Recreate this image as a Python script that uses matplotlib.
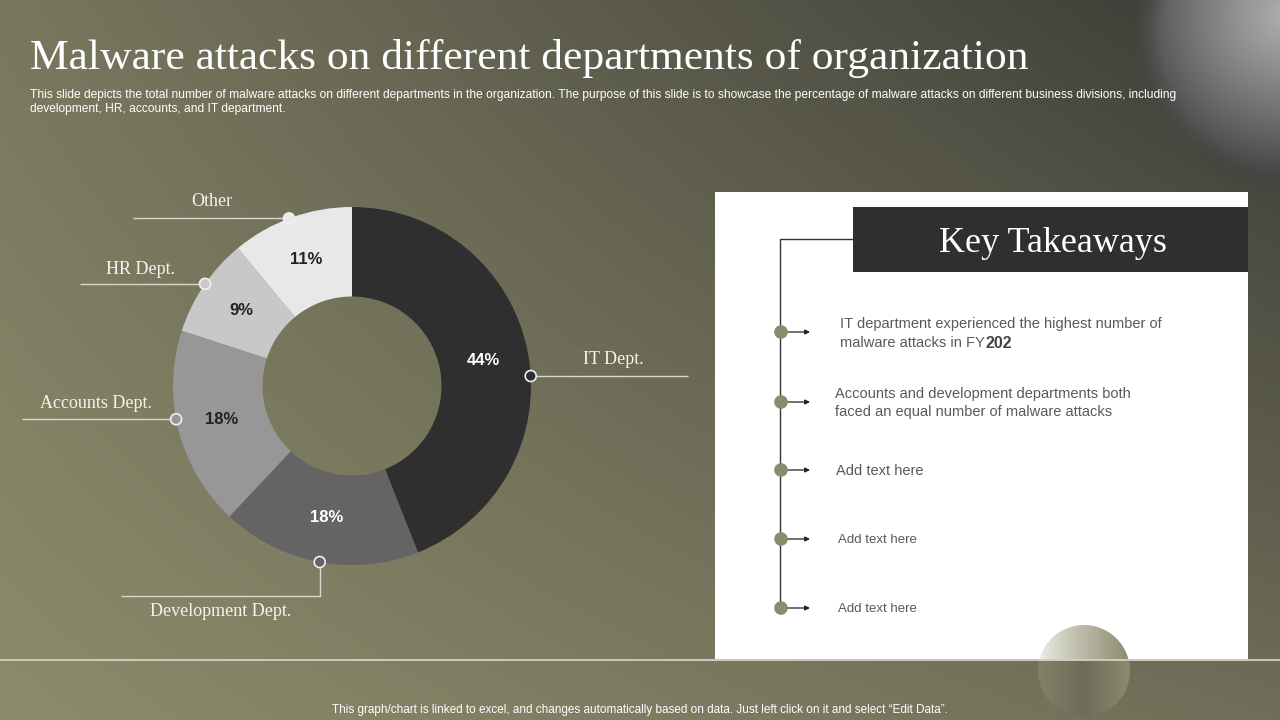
import numpy as np
import matplotlib
matplotlib.use('Agg')
import matplotlib.pyplot as plt
from matplotlib.patches import Circle, Rectangle

W, H = 1280, 720

# ---------------- data ----------------
departments = ['IT Dept.', 'Development Dept.', 'Accounts Dept.', 'HR Dept.', 'Other']
shares = [44, 18, 18, 9, 11]
slice_colors = ['#2f2f2f', '#646464', '#979797', '#c8c8c8', '#e8e8e8']
pct_colors = ['white', 'white', '#222222', '#222222', '#222222']

title = 'Malware attacks on different departments of organization'
subtitle_lines = [
    'This slide depicts the total number of malware attacks on different departments in the organization. '
    'The purpose of this slide is to showcase the percentage of malware attacks on different business divisions, including',
    'development, HR, accounts, and IT department.',
]
panel_title = 'Key Takeaways'
takeaway_1 = ['IT department experienced the highest number of', 'malware attacks in FY', '202']
takeaway_2 = ['Accounts and development departments both', 'faced an equal number of malware attacks']
takeaway_rest = ['Add text here', 'Add text here', 'Add text here']
footer = ('This graph/chart is linked to excel, and changes automatically based on data. '
          'Just left click on it and select \u201cEdit Data\u201d.')

# ---------------- layout ----------------
SANS = ['Liberation Sans', 'DejaVu Sans']
SERIF = ['Liberation Serif', 'DejaVu Serif']
PIE_C = (352, 386)      # pixel, y down
PIE_R = 179
leader_end_x = [688, 121, 22, 80, 133]
leader_drop = [0, 34, 0, 0, 0]
angle_adj = [-7.6, 0.4, -3.7, -0.6, 0.8]
label_pos = [(613, 359), (221, 611), (96, 403), (141, 270), (212, 201)]


def Y(py):
    return H - py


fig = plt.figure(figsize=(12.8, 7.2), dpi=100)
ax = fig.add_axes([0, 0, 1, 1])

# ---------------- background gradient ----------------
light = np.array([0x8c, 0x8b, 0x6b]) / 255.0
dark = np.array([0x3a, 0x3a, 0x36]) / 255.0
xn = np.linspace(0, 1, W)[None, :]
yn = np.linspace(0, 1, H)[:, None]
TL, TR, BL, BR = 0.24, 1.0, 0.0, 0.35
t = TL * (1 - xn) * (1 - yn) + TR * xn * (1 - yn) + BL * (1 - xn) * yn + BR * xn * yn
bg = light[None, None, :] + (dark - light)[None, None, :] * t[:, :, None]

# top-right glowing sphere
xx = np.arange(W)[None, :]
yy = np.arange(H)[:, None]
sc = (1292, 35)
sR = 160
r = np.sqrt((xx - sc[0]) ** 2 + (yy - sc[1]) ** 2)
dh = np.sqrt((xx - 1285) ** 2 + (yy - 15) ** 2) / 175.0
g = np.clip(0.68 - 0.45 * np.clip(dh, 0, 1) ** 1.1, 0.24, 1)
alpha = np.clip((sR - r) / 30.0, 0, 1)
sphere = np.stack([g, g, g], axis=-1)
bg = bg * (1 - alpha[:, :, None]) + sphere * alpha[:, :, None]
ax.imshow(bg, extent=(0, W, 0, H), origin='upper', zorder=0, aspect='auto', interpolation='bilinear')

# ---------------- donut ----------------
wedges, texts, autotexts = ax.pie(
    shares, colors=slice_colors, startangle=90, counterclock=False,
    radius=PIE_R, center=(PIE_C[0], Y(PIE_C[1])),
    wedgeprops=dict(width=PIE_R * 0.5, linewidth=0),
    autopct='%1.0f%%', pctdistance=0.75,
    textprops=dict(fontsize=12, fontweight='bold', family=SANS))
for txt, c in zip(autotexts, pct_colors):
    txt.set_color(c)
    txt.set_zorder(3)

ax.set_xlim(0, W)
ax.set_ylim(0, H)
ax.set_aspect('auto')
ax.axis('off')

# leaders
for i, w in enumerate(wedges):
    ang = np.deg2rad((w.theta1 + w.theta2) / 2 + angle_adj[i])
    ax_x = PIE_C[0] + PIE_R * np.cos(ang)
    ax_y = Y(PIE_C[1]) + PIE_R * np.sin(ang)
    drop_y = ax_y - leader_drop[i]
    xs = [ax_x, ax_x, leader_end_x[i]]
    ys = [ax_y, drop_y, drop_y]
    ax.plot(xs, ys, color='#d8d8cc', lw=1.0, zorder=3, solid_capstyle='butt')
    ax.add_patch(Circle((ax_x, ax_y), 5.5, facecolor=slice_colors[i], edgecolor='#f0f0f0', lw=1.2, zorder=4))
    lx, ly = label_pos[i]
    ax.text(lx, Y(ly), departments[i], ha='center', va='center', fontsize=13,
            family=SERIF, color='#f4f4ee', zorder=4)

# ---------------- right panel ----------------
ax.add_patch(Rectangle((715, Y(659)), 533, 467, facecolor='white', edgecolor='none', zorder=2))
ax.add_patch(Rectangle((853, Y(272)), 395, 65, facecolor='#2f2f2f', edgecolor='none', zorder=3))
ax.text(1053, Y(243), panel_title, ha='center', va='center', fontsize=26, family=SERIF,
        color='white', zorder=4)

dots_y = [332, 402, 470, 539, 608]
ax.plot([853, 780, 780], [Y(239), Y(239), Y(dots_y[-1])], color='#333333', lw=1.0, zorder=3)
for dy in dots_y:
    ax.add_patch(Circle((781, Y(dy)), 6.8, facecolor='#8c8b6e', edgecolor='none', zorder=4))
    ax.annotate('', xy=(810, Y(dy)), xytext=(788, Y(dy)),
                arrowprops=dict(arrowstyle='-|>', color='#222222', lw=0.9, mutation_scale=7,
                                shrinkA=0, shrinkB=0), zorder=4)

tcol = '#595959'
ax.text(840, Y(324), takeaway_1[0], ha='left', va='center', fontsize=10.5, family=SANS, color=tcol, zorder=4)
t1 = ax.text(840, Y(343), takeaway_1[1], ha='left', va='center', fontsize=10.5, family=SANS, color=tcol, zorder=4)
fig.canvas.draw()
bb = t1.get_window_extent(renderer=fig.canvas.get_renderer())
x_after = ax.transData.inverted().transform((bb.x1, bb.y0))[0]
ax.text(x_after + 1, Y(343), takeaway_1[2], ha='left', va='center', fontsize=11.5, family=SANS,
        fontweight='bold', color='#444444', zorder=4)
ax.text(835, Y(394), takeaway_2[0], ha='left', va='center', fontsize=10.5, family=SANS, color=tcol, zorder=4)
ax.text(835, Y(412), takeaway_2[1], ha='left', va='center', fontsize=10.5, family=SANS, color=tcol, zorder=4)
rest_x = [836, 838, 838]
rest_size = [10.5, 9.5, 9.5]
for txt, dy, x0, fs in zip(takeaway_rest, dots_y[2:], rest_x, rest_size):
    ax.text(x0, Y(dy + 1), txt, ha='left', va='center', fontsize=fs, family=SANS, color=tcol, zorder=4)

# ---------------- bottom sphere & line ----------------
bc = (1084, 671)
bR = 46
clip = Circle((bc[0], Y(bc[1])), bR, transform=ax.transData, facecolor='none', edgecolor='none')
ax.add_patch(clip)
nx = 120
u = np.linspace(0, 1, nx)
top_l = np.array([0.95, 0.95, 0.94]); top_r = np.array([0x8e, 0x8d, 0x6d]) / 255
top = top_l[None, :] + (top_r - top_l)[None, :] * (u[:, None] ** 0.8)
im_top = ax.imshow(np.repeat(top[None, :, :], 2, axis=0), extent=(bc[0] - bR, bc[0] + bR, Y(660), Y(bc[1] - bR)),
                   zorder=5, aspect='auto', interpolation='bilinear')
im_top.set_clip_path(clip)
bot_cols = np.array([[0x82, 0x82, 0x6a], [0x6c, 0x6c, 0x58], [0x8c, 0x8b, 0x6c]]) / 255
bot = np.array([np.interp(u, [0, 0.5, 1], bot_cols[:, k]) for k in range(3)]).T
im_bot = ax.imshow(np.repeat(bot[None, :, :], 2, axis=0), extent=(bc[0] - bR, bc[0] + bR, Y(bc[1] + bR), Y(660)),
                   zorder=5, aspect='auto', interpolation='bilinear')
im_bot.set_clip_path(clip)

ax.plot([0, W], [Y(660), Y(660)], color='#d2d2c2', lw=1.3, zorder=6)

# ---------------- titles ----------------
ax.text(30, Y(58), title, ha='left', va='center', fontsize=31.3, family=SERIF, color='white', zorder=4)
ax.text(30, Y(95), subtitle_lines[0], ha='left', va='center', fontsize=8.65, family=SANS, color='white', zorder=4)
ax.text(30, Y(109), subtitle_lines[1], ha='left', va='center', fontsize=8.65, family=SANS, color='white', zorder=4)
ax.text(640, Y(710), footer, ha='center', va='center', fontsize=8.5, family=SANS, color='white', zorder=4)

ax.set_xlim(0, W)
ax.set_ylim(0, H)
fig.savefig('out.png', dpi=100)
